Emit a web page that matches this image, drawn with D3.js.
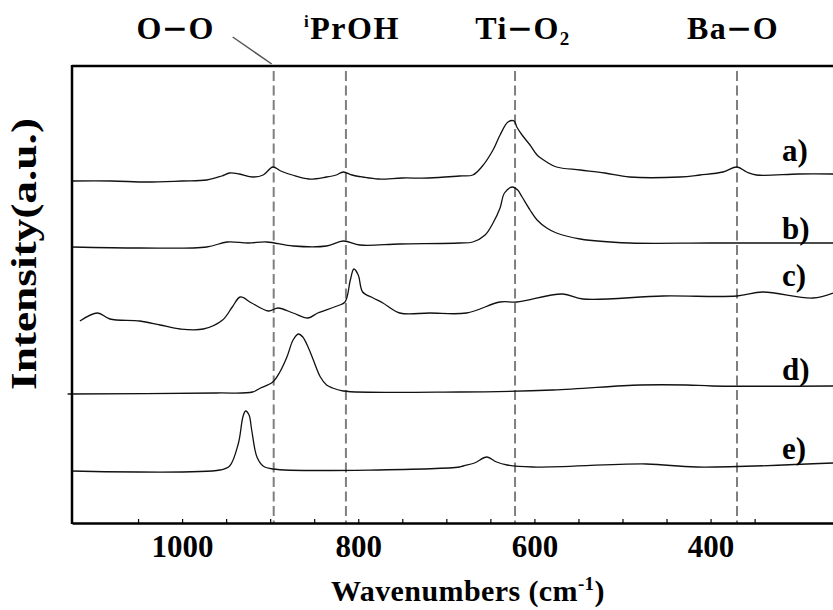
<!DOCTYPE html>
<html>
<head>
<meta charset="utf-8">
<script src="https://cdn.jsdelivr.net/npm/d3@7"></script>
<style>
  html, body { margin: 0; padding: 0; background: #fff; }
  svg { display: block; }
</style>
</head>
<body>
<svg id="chart" width="833" height="610"></svg>
<script>
// ---------------- data ----------------
const seriesNames = ["a)", "b)", "c)", "d)", "e)"];

const wnA  = [1125, 1080, 1040, 1000, 972, 955, 946, 935, 920, 908, 897, 888, 875, 856, 836, 825, 817, 807, 795, 777, 750, 720, 685, 670, 659, 647, 639, 630, 623, 620, 614, 605, 597, 586, 575, 548, 520, 492, 435, 412, 386, 370, 359, 348, 300, 261];
const intA = [342, 342, 341, 342, 343, 347, 350, 349, 346, 348, 356, 352, 348, 344, 346, 348, 351, 348, 346, 344, 345, 345, 347, 348, 357, 373, 388, 401, 402, 396, 388, 378, 368, 361, 356, 353, 350, 346, 346, 348, 351, 356, 351, 348, 349, 349];

const wnB  = [1125, 1048, 972, 949, 925, 904, 874, 836, 817, 798, 753, 685, 670, 656, 647, 639, 634, 625, 619, 614, 605, 597, 586, 575, 548, 492, 400, 261];
const intB = [276, 275, 276, 281, 280, 281, 277, 277, 282, 278, 279, 280, 281, 288, 300, 315, 330, 336, 333, 326, 313, 303, 295, 290, 284, 280, 280, 280];

const wnC  = [1116, 1096, 1082, 1048, 1025, 1002, 976, 954, 943, 934, 921, 902, 891, 874, 857, 846, 824, 815, 809, 805, 800, 795, 783, 772, 753, 719, 677, 639, 620, 568, 545, 454, 370, 341, 284, 261];
const intC = [202, 210, 204, 202, 198, 194, 194, 203, 216, 226, 220, 212, 215, 210, 205, 210, 217, 221, 243, 254, 248, 231, 225, 220, 210, 210, 210, 221, 221, 229, 224, 227, 227, 231, 225, 230];

const wnD  = [1130, 961, 920, 911, 897, 889, 881, 874, 868, 863, 857, 851, 843, 836, 829, 817, 685, 579, 480, 427, 398, 261];
const intD = [129, 130, 131, 135, 141, 151, 166, 183, 189, 186, 176, 163, 146, 138, 135, 132, 131, 133, 138, 138, 137, 137];

const wnE  = [1125, 957, 946, 936, 931, 928, 924, 921, 915, 908, 897, 685, 681, 668, 654, 643, 631, 602, 473, 416, 261];
const intE = [52, 53, 57, 80, 106, 112, 108, 93, 66, 57, 54, 56, 57, 60, 66, 61, 58, 56, 59, 56, 60];

const bandNames = ["O\u2212O", "iPrOH", "Ti\u2212O2", "Ba\u2212O"];
const bandWn = [896, 814, 622, 370];

const tickValues = [1050, 1000, 950, 900, 850, 800, 750, 700, 650, 600, 550, 500, 450, 400, 350];
const tickLabels = [1000, 800, 600, 400];

// ---------------- layout ----------------
const FONT = "'Liberation Serif', 'Times New Roman', 'DejaVu Serif', serif";
const plotLeft = 72, plotRight = 833, plotTop = 66, plotBottom = 523;

const svg = d3.select("#chart");

const x = d3.scaleLinear().domain([1125, 261]).range([plotLeft, plotRight]);
const y = d3.scaleLinear().domain([0, 457]).range([plotBottom, plotTop]);

const series = [
  {wn: wnA, v: intA},
  {wn: wnB, v: intB},
  {wn: wnC, v: intC},
  {wn: wnD, v: intD},
  {wn: wnE, v: intE}
];

function styleText(sel, size) {
  return sel.style("font-family", FONT).style("font-weight", "bold")
    .style("font-size", size + "px").style("fill", "#000");
}

// dashed band lines
svg.append("g").selectAll("line").data(bandWn).join("line")
  .attr("x1", d => x(d)).attr("x2", d => x(d))
  .attr("y1", plotTop + 5).attr("y2", plotBottom)
  .attr("stroke", "#7f7f7f").attr("stroke-width", 2)
  .attr("stroke-dasharray", "10,4.5");

// spectra
const line = d3.line()
  .x(d => x(d[0])).y(d => y(d[1]))
  .curve(d3.curveCatmullRom.alpha(0.5));

svg.append("g").selectAll("path").data(series).join("path")
  .attr("d", s => line(s.wn.map((w, i) => [w, s.v[i]])))
  .attr("fill", "none").attr("stroke", "#111").attr("stroke-width", 1.3)
  .attr("stroke-linejoin", "round");

// frame
svg.append("line").attr("x1", plotLeft).attr("x2", plotRight).attr("y1", plotTop).attr("y2", plotTop)
  .attr("stroke", "#000").attr("stroke-width", 2.5);
svg.append("line").attr("x1", plotLeft).attr("x2", plotLeft).attr("y1", plotTop - 1).attr("y2", plotBottom + 1)
  .attr("stroke", "#000").attr("stroke-width", 2.5);

// x axis
const xAxis = d3.axisBottom(x)
  .tickValues(tickValues)
  .tickSize(-4).tickSizeOuter(0)
  .tickFormat(d => tickLabels.includes(d) ? d : "");
const gx = svg.append("g").attr("transform", `translate(0,${plotBottom})`).call(xAxis);
gx.attr("font-family", null).attr("font-size", null);
gx.select(".domain").attr("stroke", "#000").attr("stroke-width", 2.5);
gx.selectAll(".tick line").attr("stroke", "#000").attr("stroke-width", 1.2);
styleText(gx.selectAll(".tick text").attr("y", 34).attr("dy", 0), 31);

// x axis title
const xt = styleText(svg.append("text"), 30)
  .attr("x", 468).attr("y", 601).attr("text-anchor", "middle")
  .style("letter-spacing", "0.4px");
xt.append("tspan").text("Wavenumbers (cm");
xt.append("tspan").attr("dy", -11).style("font-size", "19px").text("-1");
xt.append("tspan").attr("dy", 11).text(")");

// y axis title
styleText(svg.append("text"), 36)
  .attr("transform", "translate(36,254) rotate(-90)")
  .attr("text-anchor", "middle")
  .attr("textLength", 272).attr("lengthAdjust", "spacingAndGlyphs")
  .text("Intensity(a.u.)");

// series labels
const labelY = [161, 239, 286, 380, 459];
styleText(svg.append("g").selectAll("text").data(seriesNames).join("text"), 31)
  .attr("x", 782).attr("y", (d, i) => labelY[i])
  .text(d => d);

// band labels at top
const bandDx = [-98, 6, 8, -4];
const tg = svg.append("g");
bandNames.forEach((name, i) => {
  const t = styleText(tg.append("text"), 32)
    .attr("x", x(bandWn[i]) + bandDx[i]).attr("y", 39)
    .attr("text-anchor", "middle")
    .style("letter-spacing", "1.5px");
  if (name === "iPrOH") {
    t.append("tspan").style("font-size", "17px").attr("dy", -12).text("i");
    t.append("tspan").attr("dy", 12).text("PrOH");
  } else {
    const parts = name.split("\u2212");
    const rest = parts[1];
    t.append("tspan").text(parts[0]);
    t.append("tspan").style("font-size", "42px").attr("dy", 4).text("\u2212");
    if (rest.endsWith("2")) {
      t.append("tspan").attr("dy", -4).text(rest.slice(0, -1));
      t.append("tspan").style("font-size", "19px").attr("dy", 6).text("2");
    } else {
      t.append("tspan").attr("dy", -4).text(rest);
    }
  }
});

// leader line from O−O label to its band line
svg.append("line")
  .attr("x1", x(bandWn[0]) - 41).attr("y1", 37)
  .attr("x2", x(bandWn[0]) - 2).attr("y2", plotTop - 2)
  .attr("stroke", "#555").attr("stroke-width", 1.5);
</script>
</body>
</html>
